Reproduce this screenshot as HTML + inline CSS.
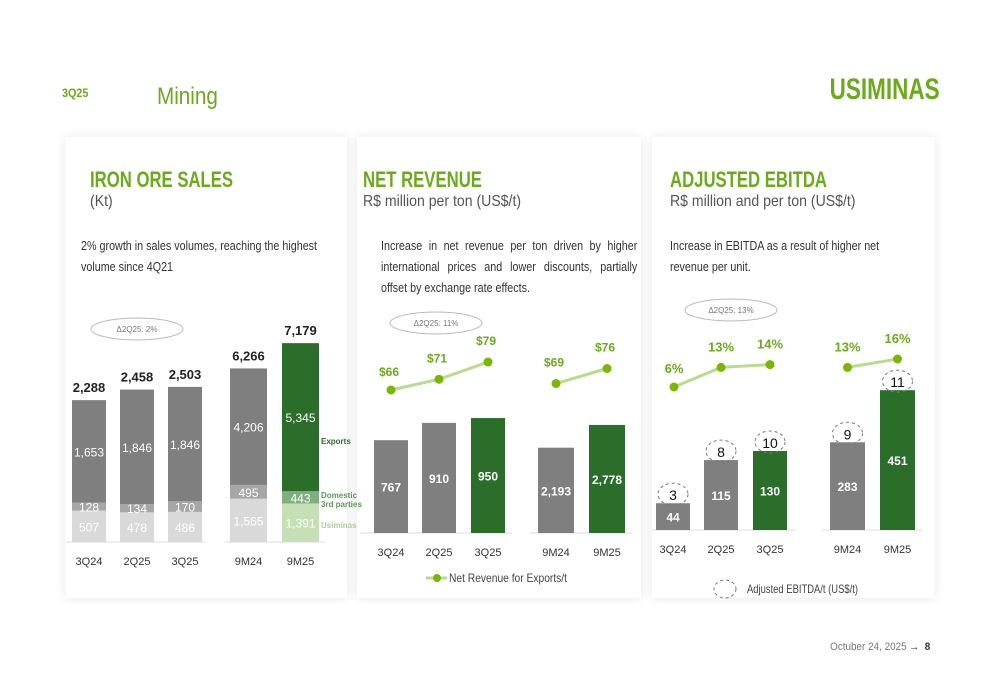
<!DOCTYPE html>
<html><head><meta charset="utf-8">
<style>
body{margin:0;width:1000px;height:685px;background:#fff;font-family:"Liberation Sans Narrow","Liberation Sans",sans-serif;position:relative;overflow:hidden}
.abs{position:absolute}
.panel{position:absolute;top:137px;height:461px;background:#fff;box-shadow:0 0 10px rgba(0,0,0,0.10)}
.title{position:absolute;left:25px;top:30px;color:#6aab1a;font-size:22px;font-weight:bold;transform:scaleX(0.76);transform-origin:left top;white-space:nowrap}
.sub{position:absolute;left:25px;top:56px;color:#555;font-size:16px;transform:scaleX(0.88);transform-origin:left top;white-space:nowrap}
.desc{position:absolute;color:#333;font-size:12.5px;line-height:21px;transform:scaleX(0.86);transform-origin:left top}
svg{position:absolute;left:0;top:0}
</style></head><body>
<div class="abs" style="left:62px;top:86px;font-size:12px;font-weight:bold;color:#6aab1a;transform:scaleX(0.9);transform-origin:left top">3Q25</div>
<div class="abs" style="left:157px;top:83px;font-size:24px;color:#6aab1a;transform:scaleX(0.86);transform-origin:left top">Mining</div>
<div class="abs" style="right:60px;top:73px;font-size:30px;font-weight:bold;color:#6aab1a;transform:scaleX(0.75);transform-origin:right top">USIMINAS</div>

<div class="panel" style="left:65px;width:282px">
  <div class="title">IRON ORE SALES</div>
  <div class="sub">(Kt)</div>
  <div class="desc" style="left:16px;top:99px;width:295px">2% growth in sales volumes, reaching the highest volume since 4Q21</div>
</div>
<div class="panel" style="left:357px;width:284px">
  <div class="title" style="left:6px">NET REVENUE</div>
  <div class="sub" style="left:6px">R$ million per ton (US$/t)</div>
  <div class="desc" style="left:24px;top:99px;width:298px;text-align:justify">Increase in net revenue per ton driven by higher international prices and lower discounts, partially offset by exchange rate effects.</div>
</div>
<div class="panel" style="left:652px;width:283px">
  <div class="title" style="left:18px">ADJUSTED EBITDA</div>
  <div class="sub" style="left:18px">R$ million and per ton (US$/t)</div>
  <div class="desc" style="left:18px;top:99px;width:265px">Increase in EBITDA as a result of higher net revenue per unit.</div>
</div>

<svg id="chart" width="1000" height="685"></svg>

<div class="abs" style="right:70px;top:641px;font-size:11px;color:#777;transform:scaleX(0.9);transform-origin:right top">Octuber 24, 2025 <b style="color:#333">&#8594;</b> &nbsp;<b style="color:#333">8</b></div>

<script>
// Chart 1: Iron ore sales (Kt)
const oreCats = ["3Q24","2Q25","3Q25","9M24","9M25"];
const oreUsiminas = [507,478,486,1565,1391];
const oreDomestic = [128,134,170,495,443];
const oreExports = [1653,1846,1846,4206,5345];
const oreTotals = ["2,288","2,458","2,503","6,266","7,179"];
// Chart 2: Net revenue
const revCats = ["3Q24","2Q25","3Q25","9M24","9M25"];
const revValues = [767,910,950,2193,2778];
const revPerTon = [66,71,79,69,76];
// Chart 3: Adjusted EBITDA
const ebCats = ["3Q24","2Q25","3Q25","9M24","9M25"];
const ebValues = [44,115,130,283,451];
const ebPerTon = [3,8,10,9,11];
const ebMargin = [6,13,14,13,16];

const svg=document.getElementById('chart');
const NS='http://www.w3.org/2000/svg';
function mk(tag,attrs,name,text){const e=document.createElementNS(NS,tag);for(const k in attrs)e.setAttribute(k,attrs[k]);


if(text!==undefined)e.textContent=text;svg.appendChild(e);return e;}
function fmt(v){return v.toLocaleString('en-US');}
const GRAY='#7f7f7f',DGREEN='#2a6e2a',LGRAY='#d9d9d9',MGRAY='#a6a6a6',LIME='#7ab800',LLINE='#b8dc8c',LBL='#6aab1a';
const FONT='"Liberation Sans Narrow","Liberation Sans",sans-serif';

function bubble(cx,cy,txt,name){mk('ellipse',{cx:cx,cy:cy,rx:46,ry:11,fill:'#fff',stroke:'#bbb','stroke-width':1},name);
mk('text',{x:cx,y:cy+3,'text-anchor':'middle','font-size':8,fill:'#777','font-family':FONT},name+'-text',txt);}

// ---- Chart 1
(function(){
 const base=542, xs=[72,120,168,230,282], ws=[34,34,34,37,37];
 const sc=i=> i<3 ? 0.062 : 0.0277;
 mk('line',{x1:66,y1:base,x2:205,y2:base,stroke:'#ddd'},'ore-axis-q');
 mk('line',{x1:225,y1:base,x2:325,y2:base,stroke:'#ddd'},'ore-axis-9m');
 for(let i=0;i<oreCats.length;i++){
  const g=i===4;const s=sc(i);const cx=xs[i]+ws[i]/2;
  const h1=oreUsiminas[i]*s,h2=oreDomestic[i]*s,h3=oreExports[i]*s;
  mk('rect',{x:xs[i],y:base-h1,width:ws[i],height:h1,fill:g?'#c5e0b4':LGRAY},'bar-usiminas-'+oreCats[i]);
  mk('rect',{x:xs[i],y:base-h1-h2,width:ws[i],height:h2,fill:g?'#7fae7f':MGRAY},'bar-domestic-'+oreCats[i]);
  mk('rect',{x:xs[i],y:base-h1-h2-h3,width:ws[i],height:h3,fill:g?DGREEN:GRAY},'bar-exports-'+oreCats[i]);
  const tf={'text-anchor':'middle','font-size':12,fill:'#fff','font-family':FONT};
  mk('text',Object.assign({x:cx,y:base-h1/2+5},tf),'label-usiminas-'+oreCats[i],fmt(oreUsiminas[i]));
  mk('text',Object.assign({x:cx,y:base-h1-h2/2+5},tf),'label-domestic-'+oreCats[i],fmt(oreDomestic[i]));
  mk('text',Object.assign({x:cx,y:base-h1-h2-h3/2+5},tf),'label-exports-'+oreCats[i],fmt(oreExports[i]));
  mk('text',{x:cx,y:base-h1-h2-h3-8,'text-anchor':'middle','font-size':13,'font-weight':'bold',fill:'#222','font-family':FONT},'total-'+oreCats[i],oreTotals[i]);
  mk('text',{x:cx,y:565,'text-anchor':'middle','font-size':11,fill:'#333','font-family':FONT},'xlabel-'+oreCats[i],oreCats[i]);
 }
 mk('text',{x:321,y:444,'font-size':8,'font-weight':'bold',fill:DGREEN,'font-family':FONT},'legend-exports','Exports');
 mk('text',{x:321,y:498,'font-size':8,'font-weight':'bold',fill:'#5a9a5a','font-family':FONT},'legend-domestic','Domestic');
 mk('text',{x:321,y:507,'font-size':8,'font-weight':'bold',fill:'#5a9a5a','font-family':FONT},'legend-3rd-parties','3rd parties');
 mk('text',{x:321,y:528,'font-size':8,'font-weight':'bold',fill:'#a8cf98','font-family':FONT},'legend-usiminas','Usiminas');
 bubble(137,329,'Δ2Q25: 2%','ore-growth-bubble');
})();

// ---- Chart 2
(function(){
 const base=533, xs=[374,422,471,538,589], ws=[34,34,34,36,36];
 const sc=i=> i<3 ? 0.121 : 0.0389;
 const ly=v=> 390-(v-66)*2.15;
 mk('line',{x1:360,y1:base,x2:512,y2:base,stroke:'#ddd'},'rev-axis-q');
 mk('line',{x1:530,y1:base,x2:632,y2:base,stroke:'#ddd'},'rev-axis-9m');
 for(let i=0;i<revCats.length;i++){
  const h=revValues[i]*sc(i),cx=xs[i]+ws[i]/2;
  mk('rect',{x:xs[i],y:base-h,width:ws[i],height:h,fill:(i===2||i===4)?DGREEN:GRAY},'bar-revenue-'+revCats[i]);
  mk('text',{x:cx,y:base-h/2+5,'text-anchor':'middle','font-size':12,'font-weight':'bold',fill:'#fff','font-family':FONT},'label-revenue-'+revCats[i],fmt(revValues[i]));
  mk('text',{x:cx,y:556,'text-anchor':'middle','font-size':11,fill:'#333','font-family':FONT},'xlabel-rev-'+revCats[i],revCats[i]);
 }
 const cx=i=>xs[i]+ws[i]/2;
 [[0,1],[1,2],[3,4]].forEach(p=>mk('line',{x1:cx(p[0]),y1:ly(revPerTon[p[0]]),x2:cx(p[1]),y2:ly(revPerTon[p[1]]),stroke:LLINE,'stroke-width':3},'rev-line-seg'));
 for(let i=0;i<revCats.length;i++){
  mk('circle',{cx:cx(i),cy:ly(revPerTon[i]),r:4.5,fill:LIME},'rev-point-'+revCats[i]);
  mk('text',{x:cx(i)-2,y:ly(revPerTon[i])-(i===0?14:17),'text-anchor':'middle','font-size':12,'font-weight':'bold',fill:LBL,'font-family':FONT},'rev-point-label-'+revCats[i],'$'+revPerTon[i]);
 }
 bubble(436,323,'Δ2Q25: 11%','rev-growth-bubble');
 mk('line',{x1:426,y1:578,x2:447,y2:578,stroke:LLINE,'stroke-width':3},'rev-legend-line');
 mk('circle',{cx:437,cy:578,r:4,fill:LIME},'rev-legend-dot');
 mk('text',{x:449,y:582,'font-size':12,fill:'#444','font-family':FONT,textLength:118,lengthAdjust:'spacingAndGlyphs'},'rev-legend-text','Net Revenue for Exports/t');
})();

// ---- Chart 3
(function(){
 const base=530, xs=[656,704,753,830,880], ws=[34,34,34,35,35];
 const sc=i=> i<3 ? 0.608 : 0.31;
 const ly=v=> 387-(v-6)*2.8;
 mk('line',{x1:652,y1:base,x2:795,y2:base,stroke:'#ddd'},'eb-axis-q');
 mk('line',{x1:822,y1:base,x2:922,y2:base,stroke:'#ddd'},'eb-axis-9m');
 for(let i=0;i<ebCats.length;i++){
  const h=ebValues[i]*sc(i),cx=xs[i]+ws[i]/2;
  mk('rect',{x:xs[i],y:base-h,width:ws[i],height:h,fill:(i===2||i===4)?DGREEN:GRAY},'bar-ebitda-'+ebCats[i]);
  mk('text',{x:cx,y:base-h/2+5,'text-anchor':'middle','font-size':12,'font-weight':'bold',fill:'#fff','font-family':FONT},'label-ebitda-'+ebCats[i],fmt(ebValues[i]));
  mk('ellipse',{cx:cx,cy:base-h-9,rx:15,ry:11,fill:'none',stroke:'#777','stroke-dasharray':'3,3'},'ebitda-per-ton-circle-'+ebCats[i]);
  mk('text',{x:cx,y:base-h-3,'text-anchor':'middle','font-size':14,fill:'#111','font-family':FONT},'ebitda-per-ton-'+ebCats[i],ebPerTon[i]);
  mk('text',{x:cx,y:553,'text-anchor':'middle','font-size':11,fill:'#333','font-family':FONT},'xlabel-eb-'+ebCats[i],ebCats[i]);
 }
 const cx=i=>xs[i]+ws[i]/2-(i===0?-1:0);
 [[0,1],[1,2],[3,4]].forEach(p=>mk('line',{x1:cx(p[0]),y1:ly(ebMargin[p[0]]),x2:cx(p[1]),y2:ly(ebMargin[p[1]]),stroke:LLINE,'stroke-width':3},'eb-line-seg'));
 for(let i=0;i<ebCats.length;i++){
  mk('circle',{cx:cx(i),cy:ly(ebMargin[i]),r:4.5,fill:LIME},'eb-point-'+ebCats[i]);
  mk('text',{x:cx(i),y:ly(ebMargin[i])-(i===0?14:16),'text-anchor':'middle','font-size':13,'font-weight':'bold',fill:LBL,'font-family':FONT},'eb-margin-label-'+ebCats[i],ebMargin[i]+'%');
 }
 bubble(731,310,'Δ2Q25: 13%','eb-growth-bubble');
 mk('ellipse',{cx:725,cy:589,rx:11,ry:9,fill:'none',stroke:'#777','stroke-dasharray':'3,3'},'eb-legend-circle');
 mk('text',{x:747,y:593,'font-size':12,fill:'#444','font-family':FONT,textLength:111,lengthAdjust:'spacingAndGlyphs'},'eb-legend-text','Adjusted EBITDA/t (US$/t)');
})();
</script>
</body></html>
